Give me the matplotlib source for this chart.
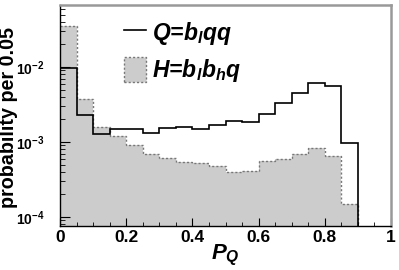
import numpy as np
import matplotlib
matplotlib.use('Agg')
import matplotlib.pyplot as plt
from matplotlib.lines import Line2D
from matplotlib.patches import Patch
from matplotlib.ticker import FixedLocator, LogLocator, FuncFormatter

# bin edges 0..1 in steps of 0.05
bin_edges = np.round(np.arange(0, 1.0001, 0.05), 2)

# Q = b_l q q
q_prob = [0.0096, 0.0023, 0.00127, 0.00148, 0.00148, 0.00133, 0.00155, 0.00158,
          0.00148, 0.00167, 0.00192, 0.00185, 0.00234, 0.00328, 0.00455, 0.00618,
          0.00558, 0.00096, 0.0, 0.0]
# H = b_l b_h q
h_prob = [0.0352, 0.0037, 0.0016, 0.0012, 0.00091, 0.000685, 0.000606, 0.000547,
          0.00052, 0.000479, 0.000398, 0.000405, 0.00056, 0.0006, 0.00069, 0.00083,
          0.00065, 0.000149, 0.0, 0.0]

x_ticks = [0, 0.2, 0.4, 0.6, 0.8, 1.0]
x_ticklabels = ['0', '0.2', '0.4', '0.6', '0.8', '1']

plt.rcParams['font.family'] = ['Liberation Sans', 'DejaVu Sans']
plt.rcParams['font.weight'] = 'bold'
plt.rcParams['mathtext.fontset'] = 'custom'
plt.rcParams['mathtext.rm'] = 'Liberation Sans:bold'
plt.rcParams['mathtext.bf'] = 'Liberation Sans:bold'
plt.rcParams['mathtext.it'] = 'Liberation Sans:bold:italic'

floor = 1e-7  # empty bins drawn below the axis
q_plot = np.where(np.array(q_prob) > 0, q_prob, floor)
h_plot = np.where(np.array(h_prob) > 0, h_prob, floor)

fig = plt.figure(figsize=(3.99, 2.70), dpi=100)
ax = fig.add_axes([0.1504, 0.163, 0.8296, 0.8185])

ax.stairs(h_plot, bin_edges, baseline=floor, fill=True, color='#cccccc', lw=0)
ax.stairs(h_plot, bin_edges, baseline=None, color='#777777', lw=1.0, ls=(0, (1.5, 1.5)))
ax.stairs(q_plot, bin_edges, baseline=None, color='black', lw=1.2)

ax.set_yscale('log')
ax.set_xlim(0, 1)
ax.set_ylim(7.6e-5, 0.067)

ax.xaxis.set_major_locator(FixedLocator(x_ticks))
ax.set_xticklabels(x_ticklabels)
ax.xaxis.set_minor_locator(FixedLocator(bin_edges))
ax.yaxis.set_major_locator(LogLocator(base=10, numticks=10))
ax.yaxis.set_minor_locator(LogLocator(base=10, subs=np.arange(2, 10), numticks=10))
ax.yaxis.set_major_formatter(FuncFormatter(
    lambda v, p: r'$\mathbf{10^{%d}}$' % int(round(np.log10(v)))))

ax.tick_params(axis='both', which='both', direction='in', top=False, right=False,
               color='black')
ax.tick_params(axis='x', which='major', length=6, pad=3, labelsize=12.5)
ax.tick_params(axis='x', which='minor', length=3)
ax.tick_params(axis='y', which='major', length=7, pad=11, labelsize=10)
ax.tick_params(axis='y', which='minor', length=3.5)

for side in ['top', 'right']:
    ax.spines[side].set_color('#999999')
    ax.spines[side].set_linewidth(1.8)
for side in ['left', 'bottom']:
    ax.spines[side].set_color('black')
    ax.spines[side].set_linewidth(1.0)

ax.set_ylabel('probability per 0.05', fontsize=14.2, fontweight='bold')
ax.yaxis.set_label_coords(-0.128, 0.49)
ax.set_xlabel(r'$\mathit{P_Q}$', fontsize=16)
ax.xaxis.set_label_coords(0.5, -0.075)

handles = [Line2D([], [], color='black', lw=1.2),
           Patch(facecolor='#cccccc', edgecolor='#777777', ls=(0, (1.5, 1.5)), lw=1.0)]
labels = [r'Q=b$_\mathit{l}$qq', r'H=b$_\mathit{l}$b$_\mathit{h}$q']
ax.legend(handles, labels, loc='upper left', bbox_to_anchor=(0.165, 0.975),
          frameon=False, prop={'size': 16.5, 'style': 'italic', 'weight': 'bold'},
          handlelength=0.95, handleheight=1.3,
          handletextpad=0.3, labelspacing=0.45, borderaxespad=0)

fig.savefig('out.png', dpi=100)
